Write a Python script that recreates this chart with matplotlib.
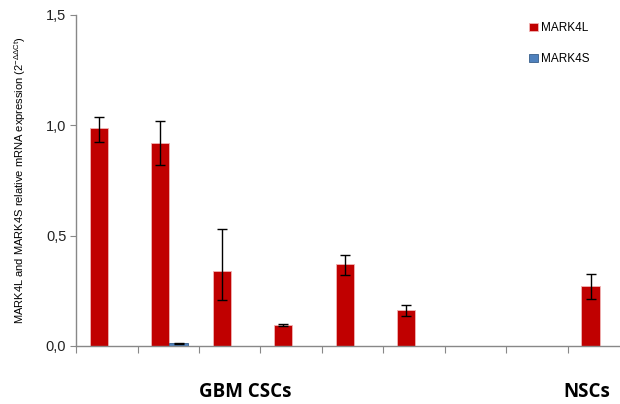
import matplotlib
matplotlib.use("Agg")
import matplotlib.pyplot as plt
import numpy as np

plt.rcParams['font.family'] = ['Liberation Sans', 'DejaVu Sans']
plt.rcParams['mathtext.default'] = 'regular'

# values
samples = ['1', '2', '3', '4', '5', '6', '7', '8', '9']
mark4l = [0.986, 0.918, 0.338, 0.097, 0.373, 0.164, 0.0, 0.0, 0.272]
mark4l_lo = [0.063, 0.097, 0.131, 0.005, 0.051, 0.029, 0.0, 0.0, 0.059]
mark4l_hi = [0.050, 0.101, 0.191, 0.004, 0.038, 0.022, 0.0, 0.0, 0.053]
mark4s = [0.002, 0.012, 0.002, 0.002, 0.002, 0.002, 0.0, 0.0, 0.002]
mark4s_err = [0.0, 0.002, 0.0, 0.0, 0.0, 0.0, 0.0, 0.0, 0.0]
group_labels = ['GBM CSCs', 'NSCs']
group_x = [2.25, 7.8]
yticks = [0.0, 0.5, 1.0, 1.5]
ytick_labels = ['0,0', '0,5', '1,0', '1,5']

fig = plt.figure(figsize=(6.2, 4.04), dpi=100)
ax = fig.add_axes([0.1226, 0.1436, 0.8926, 0.8193])

x = np.arange(len(samples))
w = 0.3
ax.bar(x - 0.13, mark4l, w, color='#C00000', edgecolor='#F0B4B4', linewidth=0.6,
       label='MARK4L', zorder=2)
ax.bar(x + 0.17, mark4s, w, color='#4F81BD', edgecolor='#385D8A', linewidth=0.6,
       label='MARK4S', zorder=2)

# error bars only where there is an error value
lo = np.array(mark4l_lo)
hi = np.array(mark4l_hi)
m = (lo + hi) > 0
ax.errorbar((x - 0.13)[m], np.array(mark4l)[m], yerr=[lo[m], hi[m]], fmt='none',
            ecolor='black', elinewidth=1.0, capsize=3.5, capthick=1.0, zorder=3)
se = np.array(mark4s_err)
m = se > 0
ax.errorbar((x + 0.17)[m], np.array(mark4s)[m], yerr=se[m], fmt='none',
            ecolor='black', elinewidth=1.0, capsize=3.5, capthick=1.0, zorder=3)

ax.set_xlim(-0.5, len(samples) - 0.5)
ax.set_ylim(0, 1.5)
ax.set_yticks(yticks)
ax.set_yticklabels(ytick_labels, fontsize=10.5, color='#222222')
ax.set_xticks(np.arange(-0.5, len(samples), 1.0))
ax.set_xticklabels([])
ax.tick_params(axis='x', length=5, width=0.8, color='#888888', direction='out')
ax.tick_params(axis='y', length=4, width=0.8, color='#888888', direction='out', pad=3)

for s in ['top', 'right']:
    ax.spines[s].set_visible(False)
for s in ['left', 'bottom']:
    ax.spines[s].set_color('#888888')
    ax.spines[s].set_linewidth(1.0)

ax.set_ylabel(r'MARK4L and MARK4S relative mRNA expression (2$^{-\Delta\Delta Ct}$)',
              fontsize=8, labelpad=13)

for lab, gx in zip(group_labels, group_x):
    ax.text(gx, -0.21, lab, ha='center', va='center', fontsize=13.5,
            fontweight='bold', family=['Open Sans', 'DejaVu Sans'])

ax.legend(loc='upper left', bbox_to_anchor=(0.8, 1.01), frameon=False,
          fontsize=8.5, handlelength=0.7, handleheight=0.7, handletextpad=0.3,
          labelspacing=1.6)

fig.savefig('out.png', dpi=100)
